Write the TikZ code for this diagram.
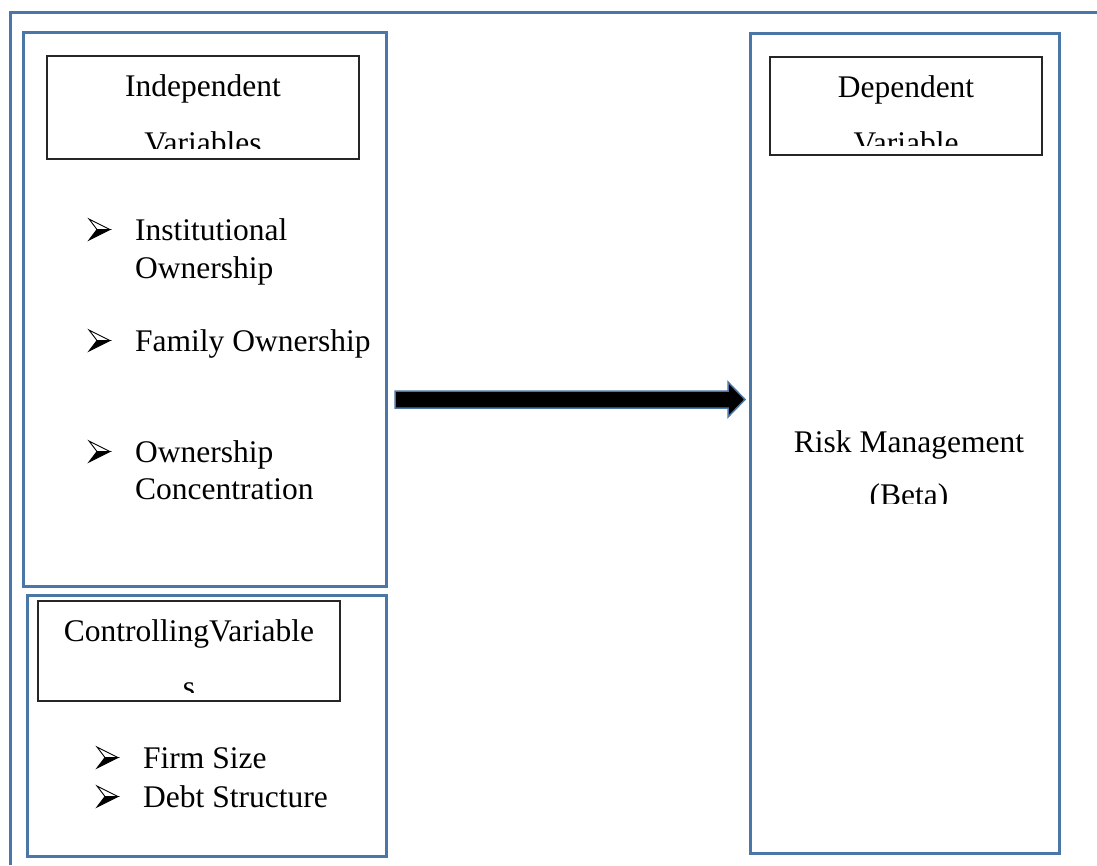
\documentclass[tikz,border=0pt]{standalone}
\usepackage{fontspec}
\setmainfont{Liberation Serif}
\definecolor{frameblue}{RGB}{74,118,168}
\tikzset{
  bluebox/.style={draw=frameblue, line width=3pt, inner sep=0pt, outer sep=0pt, anchor=north west},
  labelbox/.style={draw=black!85, line width=1.3pt, inner sep=0pt, outer sep=0pt, anchor=north west},
  txt/.style={inner sep=0pt, anchor=base west, font=\fontsize{31.5}{37}\selectfont},
  ctxt/.style={inner sep=0pt, anchor=base, font=\fontsize{31.5}{37}\selectfont},
  bigarrow/.style={fill=black, draw=frameblue, line width=1.5pt, line join=miter},
  bulletarrow/.pic={
    \draw[black, line width=0.9pt, line join=miter, fill=white] (0,-21) -- (21,-10.5) -- (8,-10.5) -- cycle;
    \fill[black] (8,-10.5) -- (21,-10.5) -- (0,0) -- cycle;
    \draw[black, line width=0.9pt, line join=miter] (8,-10.5) -- (21,-10.5) -- (0,0) -- cycle;
  }
}
\begin{document}
\begin{tikzpicture}[x=1pt, y=-1pt]
\useasboundingbox (0,0) rectangle (1097,865);
% outer frame (top and left only visible)
\coordinate (ftl) at (10,12);
\coordinate (ftr) at (1097,12);
\coordinate (fbl) at (10,865);
\draw[frameblue, line width=3pt] (fbl) -- (ftl) -- (ftr);

% big boxes
\node[bluebox, minimum width=363pt, minimum height=554pt] (indep) at (23,32) {};
\node[bluebox, minimum width=359pt, minimum height=261pt] (ctrl) at (27,595) {};
\node[bluebox, minimum width=309pt, minimum height=820pt] (dep) at (750,33) {};

% label boxes
\node[labelbox, minimum width=312pt, minimum height=103pt] (indeplbl) at (47,56) {};
\node[labelbox, minimum width=302pt, minimum height=100pt] (ctrllbl) at (38,601) {};
\node[labelbox, minimum width=272pt, minimum height=98pt] (deplbl) at (770,57) {};

% clipped label texts
\begin{scope}
  \clip (47,56) rectangle (359,148);
  \node[ctxt] (t1) at (203,96) {Independent};
  \node[ctxt] (t2) at (203,153) {Variables};
\end{scope}
\begin{scope}
  \clip (770,57) rectangle (1042,145);
  \node[ctxt] (t3) at (906,97) {Dependent};
  \node[ctxt] (t4) at (906,153) {Variable};
\end{scope}
\begin{scope}
  \clip (38,601) rectangle (340,692);
  \node[ctxt] (t5) at (189,641) {ControllingVariable};
  \node[ctxt] (t6) at (189,697) {s};
\end{scope}
\begin{scope}
  \clip (760,400) rectangle (1055,503);
  \node[ctxt] (t7) at (909,452) {Risk Management};
  \node[ctxt] (t8) at (909,505) {(Beta)};
\end{scope}

% independent bullets
\pic at (89,240) {bulletarrow};
\node[txt] (i1) at (135,240) {Institutional};
\node[txt] (i2) at (135,278) {Ownership};
\pic at (89,351) {bulletarrow};
\node[txt] (i3) at (135,351) {Family Ownership};
\pic at (89,462) {bulletarrow};
\node[txt] (i4) at (135,462) {Ownership};
\node[txt] (i5) at (135,499) {Concentration};

% controlling bullets
\pic at (97,768) {bulletarrow};
\node[txt] (c1) at (143,768) {Firm Size};
\pic at (97,807) {bulletarrow};
\node[txt] (c2) at (143,807) {Debt Structure};

% big arrow
\coordinate (as) at (395,399.5);
\coordinate (ah) at (728,399.5);
\coordinate (at) at (745,399.5);
\draw[bigarrow] ([yshift=-8.5pt]as) -- ([yshift=-8.5pt]ah) -- ([yshift=-17.5pt]ah)
  -- (at) -- ([yshift=17.5pt]ah) -- ([yshift=8.5pt]ah) -- ([yshift=8.5pt]as) -- cycle;
\end{tikzpicture}
\end{document}
